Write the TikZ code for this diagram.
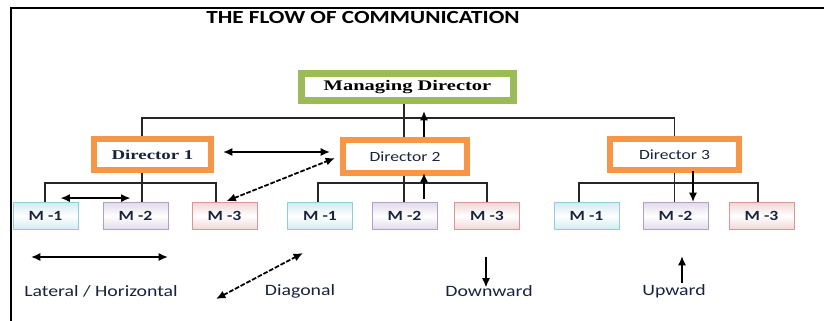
\documentclass[tikz,border=0pt]{standalone}
\usepackage{fontspec}
\setmainfont{Carlito}
\newfontfamily\widesans[FakeStretch=1.25]{Carlito}
\newfontfamily\wideserif[FakeStretch=1.4]{Liberation Serif}
\usetikzlibrary{arrows.meta,calc}
\definecolor{mdgreen}{RGB}{155,187,89}
\definecolor{dirorange}{RGB}{247,150,70}
\definecolor{m1line}{RGB}{146,205,220}
\definecolor{m1fill}{RGB}{210,234,241}
\definecolor{m2line}{RGB}{178,161,199}
\definecolor{m2fill}{RGB}{224,218,233}
\definecolor{m3line}{RGB}{217,150,148}
\definecolor{m3fill}{RGB}{240,214,213}
\definecolor{txtblue}{RGB}{25,35,60}
\begin{document}
\begin{tikzpicture}[x=0.03cm,y=-0.03cm,
  every node/.style={font=\widesans\fontsize{13.5}{16}\selectfont, text=txtblue},
  dirbox/.style={draw=dirorange, line width=0.18cm, fill=white, inner sep=0pt},
  mbox/.style={draw=#1line, top color=#1fill, bottom color=#1fill, middle color=white,
    minimum width=1.95cm, minimum height=0.82cm, inner sep=0pt,
    font=\widesans\bfseries\fontsize{12}{14}\selectfont},
  tree/.style={line width=1pt, draw=black!85},
  arr/.style={-{Latex[length=8pt,width=7pt]}, line width=1.5pt},
  dbl/.style={{Latex[length=8pt,width=7pt]}-{Latex[length=8pt,width=7pt]}, line width=1.5pt},
  diag/.style={dbl, dash pattern=on 4pt off 1.5pt}]
\useasboundingbox (0,0) rectangle (824,321);
\draw[line width=1.5pt] (11,321) -- (11,8) -- (824,8);
\node[font=\widesans\bfseries\fontsize{15.8}{18}\selectfont, text=black] (title) at (363,18) {THE FLOW OF COMMUNICATION};

% top of the chart
\node[draw=mdgreen, line width=0.21cm, minimum width=6.36cm, minimum height=0.81cm, inner sep=0pt,
  font=\wideserif\bfseries\fontsize{12.5}{15}\selectfont, text=black] (md) at (407.5,87) {Managing Director};
\node[dirbox, minimum width=3.51cm, minimum height=0.93cm, font=\wideserif\bfseries\fontsize{11.5}{14}\selectfont] (d1) at (152.5,154.5) {Director 1};
\node[dirbox, minimum width=3.72cm, minimum height=0.99cm, font=\widesans\fontsize{12}{14}\selectfont] (d2) at (405,156.5) {Director 2};
\node[dirbox, minimum width=3.87cm, minimum height=0.93cm, font=\widesans\fontsize{12}{14}\selectfont] (d3) at (674.5,154.5) {Director 3};

% managers
\foreach \g/\a/\b/\c in {1/45.5/135.5/224.5, 2/320/404.5/487, 3/586.5/675.5/761.5}{
  \node[mbox=m1] (m\g1) at (\a,216) {M -1};
  \node[mbox=m2] (m\g2) at (\b,216) {M -2};
  \node[mbox=m3] (m\g3) at (\c,216) {M -3};
}

\coordinate (c1) at (142,0);
\coordinate (c2) at (404,0);
\coordinate (bar) at (0,118);
\draw[tree] (d1.north -| c1) |- (bar -| d3.north) -- (d3.north);
\draw[tree] (md.south -| c2) -- (d2.north -| c2);
\draw[tree] (d1.south -| c1) -- (m12.north -| c1);
\draw[tree] (d2.south -| c2) -- (m22.north -| c2);
\draw[tree] (d3.south) -- (m32.north -| d3.south);
\foreach \g/\l/\r in {1/45/216, 2/318/487, 3/579/758}
  \draw[tree] (m\g1.north -| \l,0) |- (\r,183) -- (m\g3.north -| \r,0);

% flows in the chart
\draw[dbl] ($(d1.east)+(9,-2.5)$) -- ($(d2.west)+(-10,-4.5)$);
\draw[dbl] ($(m11.north)+(15,-4)$) -- ($(m12.north)+(-5,-4)$);
\draw[diag] ($(m13.north)+(2,-1)$) -- ($(d2.west)+(-5,1.5)$);
\draw[arr] ($(d2.north)+(19,0)$) -- ($(md.south)+(16.5,7)$);
\draw[arr] ($(m22.north)+(19.5,-3)$) -- ($(d2.south)+(19,-3)$);
\draw[arr, line width=2.2pt] ($(d3.south)+(18.5,-2)$) -- ($(m32.north)+(17.5,0)$);

% legend
\node[inner sep=1pt] (lhor) at (101,291) {Lateral / Horizontal};
\node[inner sep=1pt] (ldia) at (300,291) {Diagonal};
\node[inner sep=1pt] (ldown) at (489,291) {Downward};
\node[inner sep=1pt] (lup) at (674,291) {Upward};
\coordinate (h1) at (31,257);
\coordinate (h2) at (168,257);
\draw[dbl] (h1) -- (h2);
\coordinate (g1) at (216,299);
\coordinate (g2) at (303,253);
\draw[diag] (g1) -- (g2);
\coordinate (dn) at (486,257);
\draw[arr, line width=1.8pt, shorten >=-3pt] (dn) -- (dn |- ldown.north);
\coordinate (up) at (682,256);
\draw[arr, line width=1.8pt] (up |- lup.north) -- (up);
\end{tikzpicture}
\end{document}
